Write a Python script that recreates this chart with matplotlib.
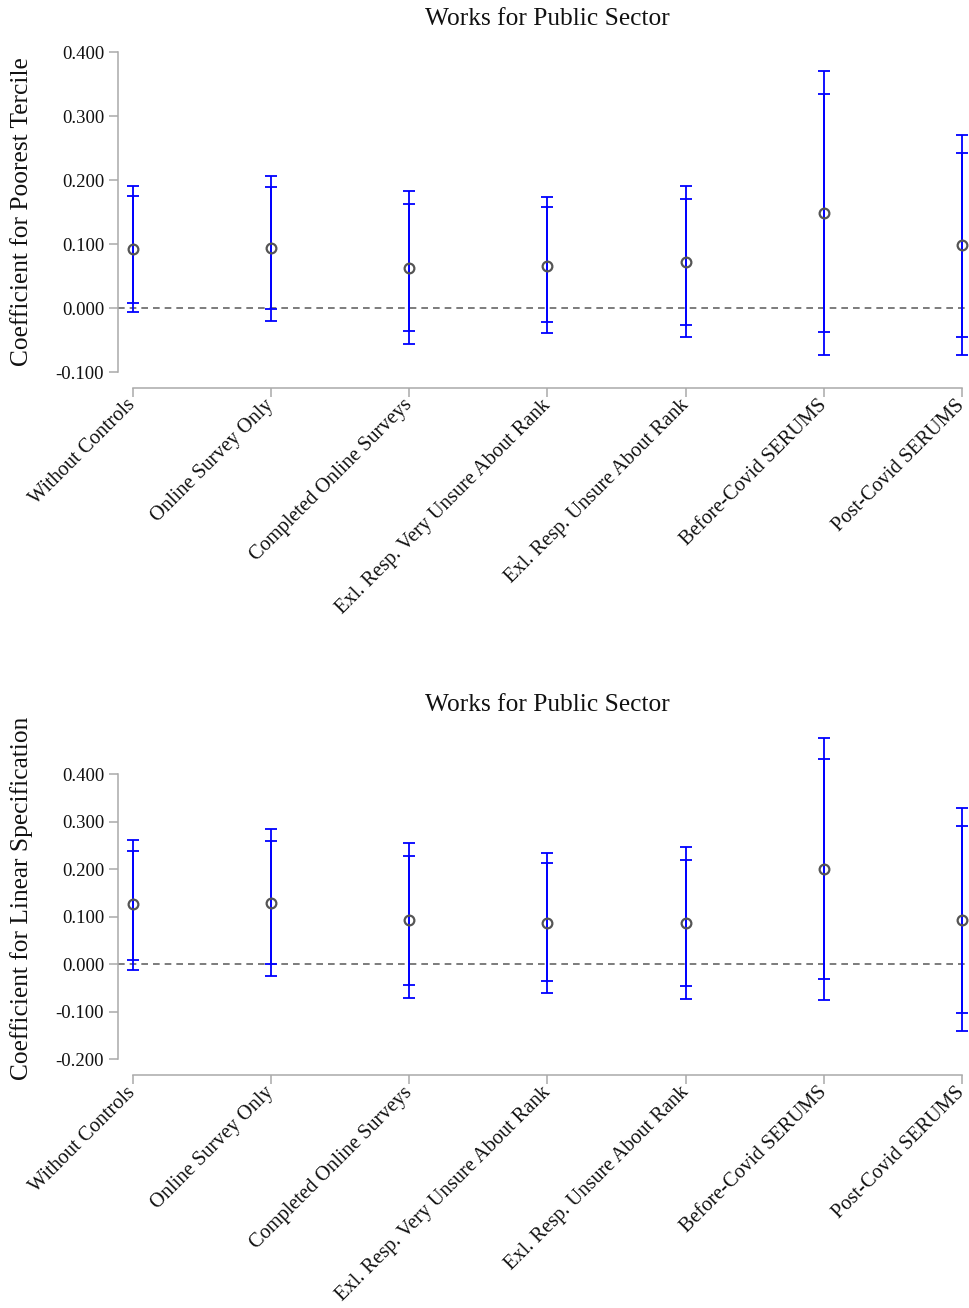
import matplotlib
matplotlib.use("Agg")
import matplotlib.pyplot as plt
import numpy as np

plt.rcParams['font.family'] = ['Liberation Serif', 'DejaVu Serif']

categories = ["Without Controls", "Online Survey Only", "Completed Online Surveys",
              "Exl. Resp. Very Unsure About Rank", "Exl. Resp. Unsure About Rank",
              "Before-Covid SERUMS", "Post-Covid SERUMS"]

# Panel 1: Coefficient for Poorest Tercile
p1_coef = [0.092, 0.093, 0.063, 0.066, 0.072, 0.149, 0.098]
p1_lo95 = [-0.007, -0.021, -0.056, -0.039, -0.045, -0.073, -0.073]
p1_hi95 = [0.191, 0.206, 0.183, 0.173, 0.190, 0.371, 0.270]
p1_lo90 = [0.008, -0.002, -0.036, -0.022, -0.027, -0.037, -0.045]
p1_hi90 = [0.175, 0.189, 0.163, 0.158, 0.171, 0.334, 0.242]

# Panel 2: Coefficient for Linear Specification
p2_coef = [0.126, 0.130, 0.093, 0.087, 0.087, 0.201, 0.094]
p2_lo95 = [-0.011, -0.025, -0.070, -0.061, -0.072, -0.075, -0.141]
p2_hi95 = [0.262, 0.285, 0.255, 0.234, 0.246, 0.477, 0.330]
p2_lo90 = [0.010, 0.000, -0.044, -0.036, -0.046, -0.030, -0.103]
p2_hi90 = [0.239, 0.260, 0.228, 0.213, 0.220, 0.432, 0.292]

title = "Works for Public Sector"
ylabels = ["Coefficient for Poorest Tercile", "Coefficient for Linear Specification"]
yticks1 = [-0.1, 0.0, 0.1, 0.2, 0.3, 0.4]
yticks2 = [-0.2, -0.1, 0.0, 0.1, 0.2, 0.3, 0.4]

W, H = 969, 1308
fig = plt.figure(figsize=(W / 100, H / 100), dpi=100)

spine_col = '#aaaaaa'
blue = '#0000ff'

def px_axes(left, top, right, bottom):
    return fig.add_axes([left / W, 1 - bottom / H, (right - left) / W, (bottom - top) / H])

def draw(ax, coef, lo95, hi95, lo90, hi90, ylim, yticks, ylabel, title_y, ylab_y):
    x = np.arange(len(categories))
    coef = np.array(coef)
    e95 = [coef - np.array(lo95), np.array(hi95) - coef]
    e90 = [coef - np.array(lo90), np.array(hi90) - coef]
    ax.axhline(0, color='#666666', lw=1.2, ls=(0, (4, 3)), zorder=1)
    ax.errorbar(x, coef, yerr=e95, fmt='none', ecolor=blue, elinewidth=1.3,
                capsize=4.2, capthick=1.3, zorder=2)
    ax.errorbar(x, coef, yerr=e90, fmt='none', ecolor=blue, elinewidth=1.3,
                capsize=4.2, capthick=1.3, zorder=2)
    ax.plot(x, coef, 'o', ms=7, mfc='none', mec='#555555', mew=1.6, zorder=3)
    ax.set_xlim(-15 / 138.17, 6 + 7 / 138.17)
    ax.set_ylim(*ylim)
    for s in ['top', 'right']:
        ax.spines[s].set_visible(False)
    ax.spines['left'].set_bounds(yticks[0], yticks[-1])
    ax.spines['bottom'].set_bounds(0, 6)
    ax.spines['bottom'].set_position(('outward', 11.5))
    for s in ['left', 'bottom']:
        ax.spines[s].set_color(spine_col)
        ax.spines[s].set_linewidth(1.1)
    ax.set_yticks(yticks)
    ax.set_yticklabels([f"{v:.3f}" for v in yticks])
    ax.set_xticks(x)
    ax.set_xticklabels(categories, rotation=45, ha='right', va='center',
                       rotation_mode='anchor')
    ax.tick_params(axis='both', colors=spine_col, labelcolor='#111111', length=6.5,
                   width=1.1)
    ax.tick_params(axis='y', pad=3.5, labelsize=13.5)
    ax.tick_params(axis='x', pad=4, labelsize=14.7)
    fig.text(547.5 / W, 1 - title_y / H, title, ha='center', va='center', fontsize=18.3,
             color='#111111')
    fig.text(22 / W, 1 - ylab_y / H, ylabel, ha='center', va='center', rotation=90,
             fontsize=18.3, color='#111111')

ax1 = px_axes(118, 52, 969, 372)
draw(ax1, p1_coef, p1_lo95, p1_hi95, p1_lo90, p1_hi90, (-0.1, 0.4), yticks1,
     ylabels[0], 19, 212)

ax2 = px_axes(118, 726.8, 969, 1059.3)
draw(ax2, p2_coef, p2_lo95, p2_hi95, p2_lo90, p2_hi90, (-0.2, 0.5), yticks2,
     ylabels[1], 705, 898)

fig.savefig("out.png", dpi=100)
